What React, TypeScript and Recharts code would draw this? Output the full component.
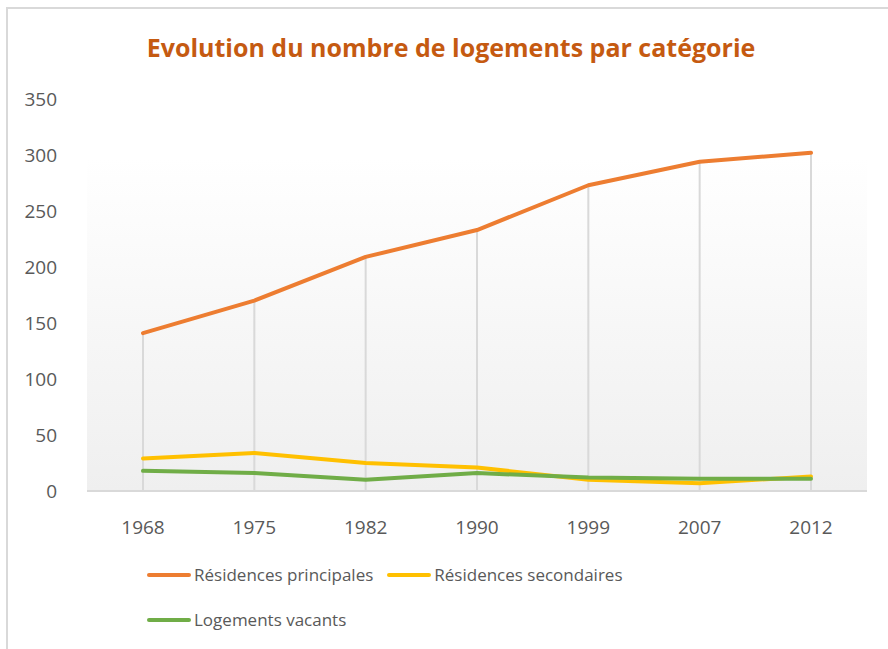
import React from 'react';
import { LineChart, Line, XAxis, YAxis, CartesianGrid, Legend, ReferenceLine } from 'recharts';

const years = ['1968', '1975', '1982', '1990', '1999', '2007', '2012'];
const principales = [141, 170, 209, 233, 273, 294, 302];
const secondaires = [29, 34, 25, 21, 10, 7, 13];
const vacants = [18, 16, 10, 16, 12, 11, 11];
const yTicks = [0, 50, 100, 150, 200, 250, 300, 350];

const series = [
  { key: 'principales', name: 'Résidences principales', color: '#ED7D31', values: principales },
  { key: 'secondaires', name: 'Résidences secondaires', color: '#FFC000', values: secondaires },
  { key: 'vacants', name: 'Logements vacants', color: '#70AD47', values: vacants },
];

const data = years.map((year, i) => {
  const row: Record<string, string | number> = { year };
  series.forEach((s) => (row[s.key] = s.values[i]));
  return row;
});

const dropTops = years.map((_, i) => Math.max(...series.map((s) => s.values[i])));

const FONT = '"Open Sans", "DejaVu Sans", sans-serif';
const TEXT = '#595959';

const LegendContent = () => (
  <div style={{ display: 'flex', flexWrap: 'wrap', rowGap: 17, columnGap: 14, width: 520 }}>
    {series.map((s) => (
      <div key={s.key} style={{ display: 'flex', alignItems: 'center' }}>
        <svg width={44} height={8} style={{ marginRight: 3 }}>
          <line x1={2} y1={4} x2={42} y2={4} stroke={s.color} strokeWidth={4} strokeLinecap="round" />
        </svg>
        <span style={{ fontFamily: FONT, fontSize: 17, color: TEXT, lineHeight: '28px' }}>{s.name}</span>
      </div>
    ))}
  </div>
);

export default function App() {
  return (
    <div style={{ position: 'absolute', left: 0, top: 0, width: 888, height: 649, overflow: 'hidden', background: '#fff' }}>
      <div
        style={{
          position: 'absolute',
          left: 6,
          top: 7,
          width: 900,
          height: 700,
          borderLeft: '2px solid #d9d9d9',
          borderTop: '2px solid #d9d9d9',
        }}
      />
      <div
        style={{
          position: 'absolute',
          left: 0,
          width: 888,
          top: 30,
          textAlign: 'center',
          fontFamily: FONT,
          fontWeight: 700,
          fontSize: 25,
          color: '#C55A11',
          transform: 'translateX(7px)',
        }}
      >
        Evolution du nombre de logements par catégorie
      </div>
      <div style={{ position: 'absolute', left: 0, top: 0 }}>
        <LineChart width={888} height={649} data={data} margin={{ top: 99, right: 21, bottom: 98, left: 7 }}>
          <defs>
            <linearGradient id="plotGrad" x1="0" y1="0" x2="0" y2="1">
              <stop offset="0%" stopColor="#ffffff" />
              <stop offset="15%" stopColor="#ffffff" />
              <stop offset="100%" stopColor="#efefef" />
            </linearGradient>
          </defs>
          <CartesianGrid horizontal={false} vertical={false} fill="url(#plotGrad)" />
          <XAxis
            dataKey="year"
            height={60}
            padding={{ left: 56, right: 56 }}
            tickLine={false}
            tickMargin={24}
            axisLine={{ stroke: '#d9d9d9', strokeWidth: 2 }}
            tick={{ fill: TEXT, fontSize: 19, fontFamily: FONT }}
          />
          <YAxis
            width={80}
            domain={[0, 350]}
            ticks={yTicks}
            axisLine={false}
            tickLine={false}
            tickMargin={24}
            tick={{ fill: TEXT, fontSize: 19, fontFamily: FONT }}
          />
          {years.map((y, i) => (
            <ReferenceLine
              key={y}
              segment={[
                { x: y, y: 0 },
                { x: y, y: dropTops[i] },
              ]}
              stroke="#d9d9d9"
              strokeWidth={2}
            />
          ))}
          {series.map((s) => (
            <Line
              key={s.key}
              dataKey={s.key}
              name={s.name}
              stroke={s.color}
              strokeWidth={4}
              strokeLinecap="round"
              strokeLinejoin="round"
              dot={false}
              activeDot={false}
              isAnimationActive={false}
            />
          ))}
          <Legend
            layout="horizontal"
            verticalAlign="middle"
            align="center"
            wrapperStyle={{ left: 147, top: 561, width: 540 }}
            content={<LegendContent />}
          />
        </LineChart>
      </div>
    </div>
  );
}
